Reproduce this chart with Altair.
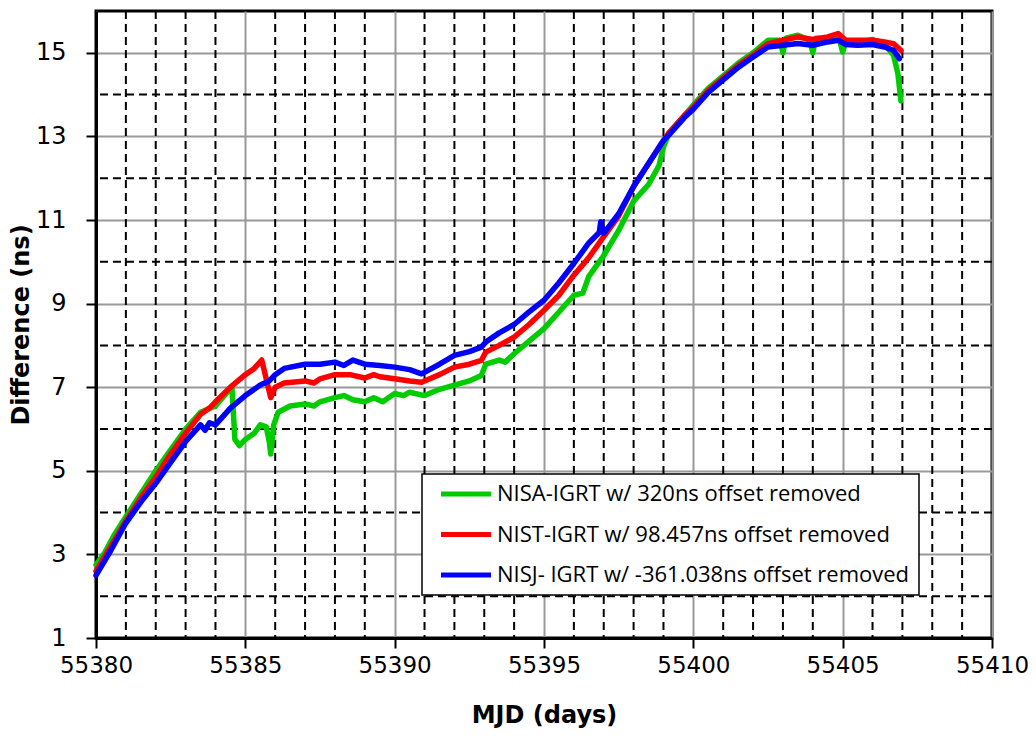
import altair as alt
import pandas as pd

FONT = "Open Sans"
TICKFONT = "DejaVu Sans"
TITLEFONT = "DejaVu Sans"

series_names = [
    "NISA-IGRT w/ 320ns offset removed",
    "NIST-IGRT w/ 98.457ns offset removed",
    "NISJ- IGRT w/ -361.038ns offset removed",
]
series_colors = ["#00cc00", "#ff0000", "#0000ff"]

nisa_day = [55380.0, 55380.3, 55380.6, 55381.0, 55381.5, 55382.0, 55382.5, 55383.0, 55383.5,
            55384.0, 55384.3, 55384.55, 55384.65, 55384.8, 55385.0, 55385.3, 55385.5, 55385.7,
            55385.8, 55385.85, 55385.95, 55386.1, 55386.5, 55387.0, 55387.3, 55387.5, 55388.0, 55388.3,
            55388.6, 55389.0, 55389.3, 55389.6, 55390.0, 55390.3, 55390.5, 55391.0, 55391.5, 55392.0,
            55392.5, 55392.9, 55393.05, 55393.5, 55393.7, 55394.0, 55394.5, 55395.0, 55395.5, 55396.0,
            55396.3, 55396.5, 55397.0, 55397.5, 55398.0, 55398.5, 55398.85, 55399.0, 55399.2, 55399.7,
            55400.0, 55400.5, 55401.0, 55401.5, 55402.0, 55402.5, 55402.9, 55403.0, 55403.1,
            55403.5, 55403.9, 55404.0, 55404.1, 55404.5, 55404.9, 55405.0, 55405.1, 55405.5,
            55406.0, 55406.4, 55406.7, 55406.85, 55406.95]
nisa_val = [2.75, 3.05, 3.45, 3.9, 4.45, 5.0, 5.5, 6.0, 6.4,
            6.55, 6.8, 7.0, 5.75, 5.6, 5.75, 5.9, 6.1, 6.05,
            5.7, 5.4, 6.1, 6.4, 6.55, 6.6, 6.55, 6.65, 6.75, 6.8,
            6.7, 6.65, 6.75, 6.65, 6.85, 6.8, 6.88, 6.8, 6.95, 7.05,
            7.15, 7.28, 7.55, 7.65, 7.6, 7.8, 8.1, 8.4, 8.8, 9.2,
            9.25, 9.65, 10.15, 10.75, 11.45, 11.85, 12.3, 12.75, 13.1, 13.5,
            13.75, 14.15, 14.45, 14.75, 15.0, 15.3, 15.3, 15.0, 15.35,
            15.42, 15.3, 15.0, 15.35, 15.35, 15.3, 15.02, 15.25, 15.25,
            15.32, 15.2, 14.95, 14.5, 13.85]

nist_day = [55380.0, 55380.5, 55381.0, 55381.5, 55382.0, 55382.5, 55383.0, 55383.5, 55383.8,
            55384.0, 55384.5, 55385.0, 55385.3, 55385.55, 55385.7, 55385.85, 55386.0, 55386.3,
            55387.0, 55387.3, 55387.5, 55388.0, 55388.5, 55389.0, 55389.3, 55389.5, 55390.0, 55390.5,
            55390.9, 55391.5, 55392.0, 55392.5, 55392.9, 55393.05, 55393.5, 55394.0, 55394.5, 55395.0,
            55395.5, 55396.0, 55396.5, 55397.0, 55397.5, 55398.0, 55398.5, 55399.0, 55399.2,
            55399.7, 55400.0, 55400.5, 55401.0, 55401.5, 55402.0, 55402.5, 55403.0, 55403.5,
            55404.0, 55404.5, 55404.85, 55405.1, 55405.5, 55406.0, 55406.4, 55406.7, 55406.95]
nist_val = [2.6, 3.2, 3.8, 4.35, 4.85, 5.4, 5.9, 6.35, 6.5,
            6.65, 7.0, 7.3, 7.45, 7.65, 7.2, 6.75, 7.0, 7.1,
            7.15, 7.1, 7.2, 7.3, 7.3, 7.22, 7.3, 7.25, 7.2, 7.15,
            7.12, 7.3, 7.48, 7.55, 7.64, 7.84, 8.0, 8.2, 8.5, 8.84,
            9.2, 9.68, 10.1, 10.6, 11.1, 11.8, 12.35, 12.9, 13.1,
            13.5, 13.7, 14.1, 14.4, 14.7, 14.95, 15.22, 15.3, 15.38,
            15.32, 15.38, 15.46, 15.3, 15.3, 15.3, 15.26, 15.22, 15.06]

nisj_day = [55380.0, 55380.5, 55381.0, 55381.5, 55382.0, 55382.5, 55383.0, 55383.5, 55383.65,
            55383.8, 55384.0, 55384.5, 55385.0, 55385.5, 55385.8, 55386.0, 55386.3, 55387.0,
            55387.5, 55388.0, 55388.3, 55388.6, 55389.0, 55389.5, 55390.0, 55390.5, 55390.9, 55391.5,
            55392.0, 55392.5, 55392.9, 55393.05, 55393.5, 55394.0, 55394.5, 55395.0, 55395.5,
            55396.0, 55396.5, 55396.85, 55396.9, 55397.0, 55397.5, 55398.0, 55398.5, 55399.0,
            55399.2, 55399.7, 55400.0, 55400.5, 55401.0, 55401.5, 55402.0, 55402.5, 55403.0,
            55403.5, 55404.0, 55404.5, 55404.85, 55405.1, 55405.5, 55406.0, 55406.4, 55406.7,
            55406.9]
nisj_val = [2.5, 3.1, 3.75, 4.25, 4.7, 5.2, 5.7, 6.1, 5.97,
            6.15, 6.1, 6.5, 6.8, 7.05, 7.15, 7.3, 7.45, 7.55,
            7.55, 7.6, 7.52, 7.65, 7.55, 7.52, 7.48, 7.42, 7.32, 7.55,
            7.76, 7.85, 7.96, 8.08, 8.3, 8.5, 8.8, 9.08, 9.5,
            9.96, 10.45, 10.7, 10.96, 10.68, 11.15, 11.8, 12.35, 12.9,
            13.05, 13.45, 13.65, 14.05, 14.35, 14.65, 14.9, 15.14, 15.18,
            15.22, 15.18, 15.26, 15.3, 15.2, 15.18, 15.2, 15.14, 15.06,
            14.86]

x_major = [55380, 55385, 55390, 55395, 55400, 55405, 55410]
x_minor = [d for d in range(55381, 55410) if d % 5 != 0]
y_major = [1, 3, 5, 7, 9, 11, 13, 15]
y_minor = [2, 4, 6, 8, 10, 12, 14]

rows = []
for name, days, vals in zip(series_names, [nisa_day, nist_day, nisj_day], [nisa_val, nist_val, nisj_val]):
    for d, v in zip(days, vals):
        rows.append({"series": name, "day": d, "value": v})
df = pd.DataFrame(rows)

xscale = alt.Scale(domain=[55380, 55410], nice=False, zero=False)
yscale = alt.Scale(domain=[1, 16], nice=False, zero=False)

vgrid = alt.Chart(pd.DataFrame({"day": x_minor})).mark_rule(
    color="black", strokeWidth=2, strokeDash=[8, 5]
).encode(x=alt.X("day:Q", scale=xscale))

hgrid = alt.Chart(pd.DataFrame({"value": y_minor})).mark_rule(
    color="black", strokeWidth=2, strokeDash=[8, 5]
).encode(y=alt.Y("value:Q", scale=yscale))

lines = alt.Chart(df).mark_line(strokeWidth=5.5, strokeJoin="round", strokeCap="round").encode(
    x=alt.X(
        "day:Q", scale=xscale,
        axis=alt.Axis(
            values=x_major, format="d", title="MJD (days)",
            grid=True, gridColor="#999999", gridWidth=2,
            tickSize=10, tickWidth=2, tickColor="black",
            domainColor="black", domainWidth=3,
            labelFont=TICKFONT, labelFontSize=23, labelColor="black", labelPadding=6,
            labelFlush=False,
            titleFont=TITLEFONT, titleFontSize=24, titleFontWeight="bold", titleColor="black",
            titlePadding=26,
        ),
    ),
    y=alt.Y(
        "value:Q", scale=yscale,
        axis=alt.Axis(
            values=y_major, format="d", title="Difference (ns)",
            grid=True, gridColor="#999999", gridWidth=2,
            tickSize=10, tickWidth=2, tickColor="black",
            domainColor="black", domainWidth=3,
            labelFont=TICKFONT, labelFontSize=24, labelColor="black", labelPadding=20,
            labelFlush=False,
            titleFont=TITLEFONT, titleFontSize=24, titleFontWeight="bold", titleColor="black",
            titlePadding=2,
        ),
    ),
    color=alt.Color(
        "series:N",
        scale=alt.Scale(domain=series_names, range=series_colors),
        sort=series_names,
        legend=alt.Legend(
            title=None, orient="none", legendX=326, legendY=463,
            symbolType="M-5,0L5,0", symbolSize=100, symbolStrokeWidth=5,
            symbolOffset=24,
            labelFont=FONT, labelFontSize=22, labelColor="black", labelLimit=600,
            labelOffset=20, rowPadding=18.5, padding=9,
            fillColor="white", strokeColor="black",
        ),
    ),
)

chart = alt.layer(vgrid, hgrid, lines).properties(
    width=896, height=627,
    padding={"left": 88, "top": 3, "right": 36, "bottom": 92},
    autosize=alt.AutoSizeParams(type="none"),
).configure_view(stroke="black", strokeWidth=3).configure_legend(strokeWidth=1.5)

chart.save("out.html", embed_options={"renderer": "svg", "actions": False})
